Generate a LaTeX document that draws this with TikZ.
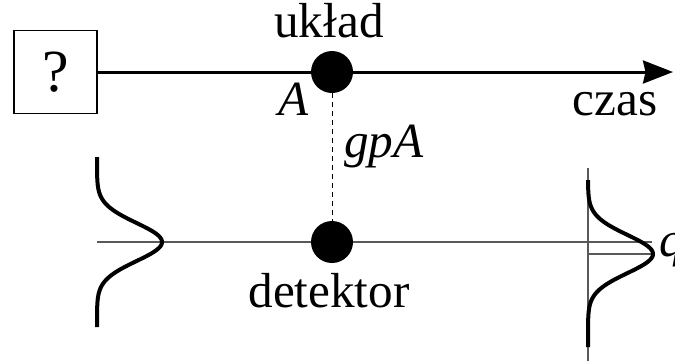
\documentclass[tikz,border=0pt]{standalone}
\usepackage{fontspec}
\setmainfont{Liberation Serif}
\usetikzlibrary{arrows.meta,positioning}
\tikzset{
  napis/.style={font=\fontsize{28}{32}\selectfont,inner sep=0pt},
  zmienna/.style={napis,font=\fontsize{28}{32}\selectfont\itshape},
  kropka/.style={circle,fill=black,minimum size=0.84cm,inner sep=0pt},
  pudelko/.style={draw,line width=0.035cm,minimum width=1.66cm,minimum height=1.66cm,inner sep=0pt,font=\fontsize{34}{38}\selectfont},
  os/.style={-{Stealth[length=0.6cm,width=0.46cm,inset=0.05cm]},line width=0.06cm},
  cienka/.style={gray!70!black,line width=0.03cm},
  krzywa/.style={line width=0.08cm,line join=round},
  kreska/.style={line width=0.02cm,dash pattern=on 0.1cm off 0.08cm},
}

\begin{document}
\begin{tikzpicture}[x=0.02cm,y=-0.02cm]
  \useasboundingbox (0,0) rectangle (675,360);
  % os czasu
  \node[pudelko] (pytanie) at (55.5,72) {?};
  \node[kropka] (uklad) at (332,72) {};
  \coordinate (koniec) at (673,72);
  \draw[os] (pytanie) -- (koniec);
  % detektor
  \coordinate (lewy) at (97,242);
  \coordinate (prawy) at (652,242);
  \draw[cienka] (lewy) -- (prawy);
  \node[kropka] (detektor) at (332,242) {};
  \draw[kreska] (uklad) -- (detektor);
  % rozklady
  \coordinate (pion-g) at (588,168);
  \coordinate (pion-d) at (588,362);
  \coordinate (srodek) at (588,254);
  \coordinate (szczyt) at (653,254);
  \draw[cienka] (pion-g) -- (pion-d);
  \draw[cienka] (srodek) -- (szczyt);
  \draw[krzywa] plot[domain=157:327,samples=120] ({97+65*exp(-((\x-242)/27)^2)},\x);
  \draw[krzywa] plot[domain=180:347,samples=120] ({588+65*exp(-((\x-254)/27)^2)},\x);
  % napisy
  \node[napis,anchor=base] (t-uklad) at (329,37) {układ};
  \node[zmienna,anchor=base] (t-A) at (294,115) {A};
  \node[zmienna,anchor=base west] (t-gpA) at (344,157) {gpA};
  \node[napis,anchor=base] (t-czas) at (615,115) {czas};
  \node[napis,anchor=base] (t-det) at (329,307) {detektor};
  \node[zmienna,anchor=base west] (t-q) at (659,256) {q};
\end{tikzpicture}
\end{document}
